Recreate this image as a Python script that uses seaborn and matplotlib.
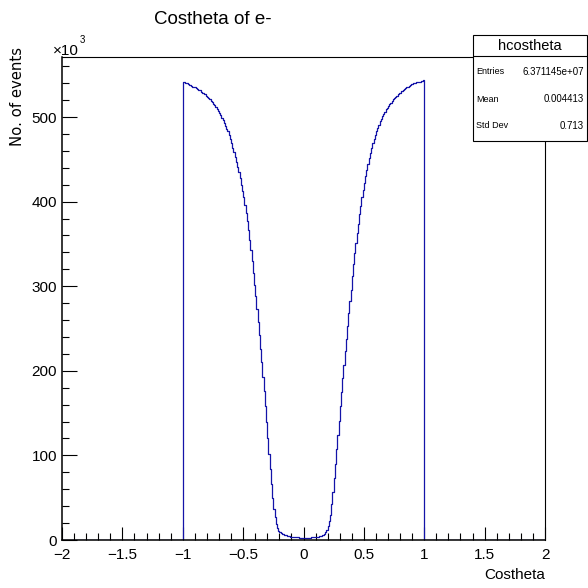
import numpy as np
import pandas as pd
import matplotlib
matplotlib.use("Agg")
import matplotlib.pyplot as plt
import seaborn as sns
from matplotlib.patches import Rectangle
from matplotlib.lines import Line2D
from matplotlib.ticker import MultipleLocator, FixedLocator

# ---------------- data (counts per 0.01 bin, in units of 10^3) ----------------
# cos(theta) bins from -1.00 to 0.00
counts_neg = [
    541, 542, 540, 540, 539, 538, 538, 537, 536, 536,
    535, 534, 533, 532, 532, 530, 529, 528, 527, 525,
    524, 522, 521, 519, 518, 516, 514, 512, 510, 507,
    505, 502, 499, 496, 493, 490, 486, 483, 479, 474,
    469, 464, 459, 453, 447, 441, 435, 428, 420, 413,
    405, 396, 387, 377, 366, 355, 343, 330, 316, 302,
    288, 273, 258, 242, 226, 210, 193, 176, 158, 140,
    121, 102, 84, 66, 50, 37, 27, 19, 14, 11,
    9, 8, 7, 7, 6, 6, 5, 5, 5, 4,
    4, 4, 3, 3, 3, 3, 2, 2, 2, 2,
]
# cos(theta) bins from 0.00 to 1.00
counts_pos = [
    2, 2, 2, 2, 2, 2, 3, 3, 3, 3,
    4, 4, 4, 5, 5, 6, 6, 7, 9, 12,
    16, 22, 30, 42, 57, 73, 90, 107, 124, 141,
    158, 175, 191, 207, 223, 238, 253, 268, 282, 296,
    312, 326, 339, 351, 363, 374, 385, 395, 405, 414,
    422, 430, 438, 445, 452, 458, 464, 469, 474, 479,
    483, 487, 491, 495, 498, 501, 504, 506, 509, 511,
    513, 515, 517, 519, 521, 522, 524, 525, 527, 528,
    529, 531, 532, 533, 534, 535, 536, 537, 538, 539,
    539, 540, 540, 541, 541, 542, 542, 543, 543, 544,
]

axis_range = [-2.0, 2.0]
hist_range = [-1.0, 1.0]
y_max = 571

x_ticks = [-2, -1.5, -1, -0.5, 0, 0.5, 1, 1.5, 2]
x_tick_labels = ["\u22122", "\u22121.5", "\u22121", "\u22120.5", "0", "0.5", "1", "1.5", "2"]
y_ticks = [0, 100, 200, 300, 400, 500]
y_tick_labels = ["0", "100", "200", "300", "400", "500"]

title = "Costheta of e-"
x_title = "Costheta"
y_title = "No. of events"
stat_name = "hcostheta"
stat_keys = ["Entries", "Mean", "Std Dev"]
stat_vals = ["6.371145e+07", "0.004413", "0.713"]

# ---------------- figure ----------------
sns.set_style("white")
FONT = ["Liberation Sans", "DejaVu Sans"]
plt.rcParams["font.family"] = FONT
plt.rcParams["text.color"] = "black"
plt.rcParams["axes.labelcolor"] = "black"
plt.rcParams["xtick.color"] = "black"
plt.rcParams["ytick.color"] = "black"
plt.rcParams["axes.edgecolor"] = "black"

W = H = 588
fig = plt.figure(figsize=(W / 100, H / 100), dpi=100)
fig.patch.set_facecolor("white")

def fx(px):
    return px / W

def fy(py):
    return 1 - py / H

ax = fig.add_axes([fx(62), fy(540), (545 - 62) / W, (540 - 57) / H])
ax.set_facecolor("white")

counts = [0] + counts_neg + counts_pos + [0]
inner_edges = np.linspace(hist_range[0], hist_range[1], len(counts_neg) + len(counts_pos) + 1)
edges = np.concatenate([[axis_range[0]], inner_edges, [axis_range[1]]])
centers = (edges[:-1] + edges[1:]) / 2
df = pd.DataFrame({"costheta": centers, "events": counts})

line_color = "#1414a8"
sns.histplot(data=df, x="costheta", weights="events", bins=[float(e) for e in edges],
             element="step", fill=False, color=line_color, linewidth=0.9, ax=ax, zorder=2)

ax.set_xlim(axis_range)
ax.set_ylim(0, y_max)
ax.set_xlabel("")
ax.set_ylabel("")

ax.xaxis.set_major_locator(FixedLocator(x_ticks))
ax.set_xticklabels(x_tick_labels)
ax.xaxis.set_minor_locator(MultipleLocator(0.1))
ax.yaxis.set_major_locator(FixedLocator(y_ticks))
ax.set_yticklabels(y_tick_labels)
ax.yaxis.set_minor_locator(MultipleLocator(20))

ax.tick_params(axis="both", which="both", direction="in", top=False, right=False,
               bottom=True, left=True, color="black", labelcolor="black", width=0.8)
ax.tick_params(axis="x", which="major", length=9.5, pad=5.5, labelsize=11)
ax.tick_params(axis="x", which="minor", length=4.8)
ax.tick_params(axis="y", which="major", length=10.5, pad=3.5, labelsize=11)
ax.tick_params(axis="y", which="minor", length=5.2)

for s in ax.spines.values():
    s.set_visible(True)
    s.set_color("black")
    s.set_linewidth(0.8)
    s.set_zorder(3)
ax.spines["left"].set_linewidth(1.1)
ax.spines["bottom"].set_linewidth(1.1)

# titles
fig.text(fx(213), fy(19), title, ha="center", va="center", fontsize=13.5, color="black")
fig.text(fx(545), fy(575), x_title, ha="right", va="center", fontsize=11, color="black")
fig.text(fx(18), fy(47), y_title, ha="center", va="top", rotation=90, fontsize=10.7,
         family=["DejaVu Sans"], color="black")
fig.text(fx(53), fy(55), "\u00d710", ha="left", va="baseline", fontsize=11, color="black")
fig.text(fx(80), fy(43), "3", ha="left", va="baseline", fontsize=7, color="black")

# stats box
bx0, by0, bx1, by1 = 473, 35, 587, 141
fig.patches.append(Rectangle((fx(bx0), fy(by1)), (bx1 - bx0) / W, (by1 - by0) / H,
                             transform=fig.transFigure, facecolor="white",
                             edgecolor="black", linewidth=0.8, zorder=5))
fig.lines.append(Line2D([fx(bx0), fx(bx1)], [fy(56), fy(56)], transform=fig.transFigure,
                        color="black", linewidth=0.8, zorder=6))
fig.text(fx((bx0 + bx1) / 2), fy(46), stat_name, ha="center", va="center",
         fontsize=10.5, color="black", zorder=7)
row_y = [72, 99, 126]
for k, v, yy in zip(stat_keys, stat_vals, row_y):
    fig.text(fx(476), fy(yy), k, ha="left", va="center", fontsize=6.5, color="black", zorder=7)
    fig.text(fx(584), fy(yy), v, ha="right", va="center", fontsize=7, color="black", zorder=7)

fig.savefig("out.png", dpi=100, facecolor="white")
